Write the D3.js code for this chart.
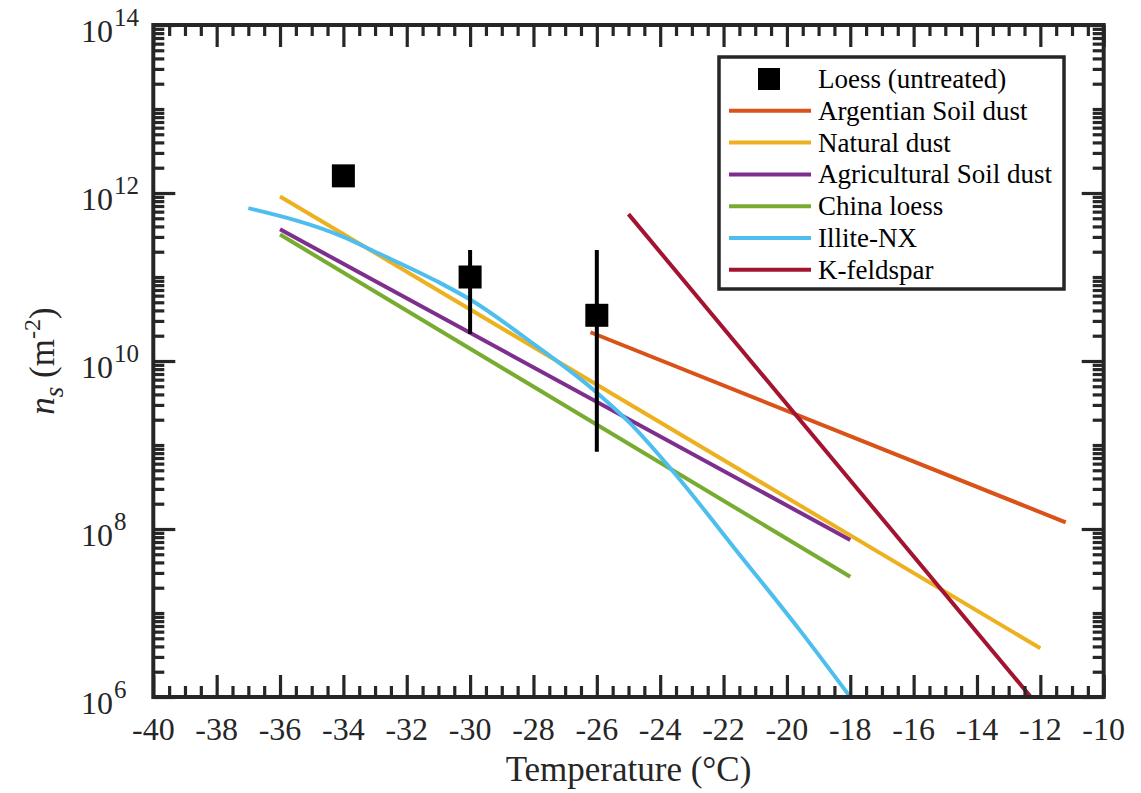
<!DOCTYPE html>
<html>
<head>
<meta charset="utf-8">
<script src="https://cdn.jsdelivr.net/npm/d3@7"></script>
<style>
body { margin: 0; background: #fff; }
text { font-family: "Liberation Serif", "Times New Roman", serif; }
</style>
</head>
<body>
<script>

// ---- data ----
var tempTicks = [-40, -38, -36, -34, -32, -30, -28, -26, -24, -22, -20, -18, -16, -14, -12, -10];
var nsExpTicks = [6, 8, 10, 12, 14];

var loessT = [-34, -30, -26];
var loessNs = [1.6e12, 1.0e11, 3.5e10];
var loessLow = [1.35e12, 2.1e10, 8.3e8];
var loessHigh = [1.7e12, 2.1e11, 2.1e11];

var argentinaT = [-26.2, -11.2];
var argentinaNs = [2.2e10, 1.2e8];
var naturalT = [-36, -12];
var naturalNs = [9.1e11, 3.8e6];
var agriT = [-36, -18];
var agriNs = [3.7e11, 7.4e7];
var chinaT = [-36, -18];
var chinaNs = [3.2e11, 2.7e7];
var illiteT = [-37, -34, -33, -31, -30, -28, -26, -25, -23.5, -21.7, -19.6, -18];
var illiteNs = [6.6e11, 3.0e11, 2.0e11, 8.7e10, 5.4e10, 1.6e10, 4.2e9, 1.9e9, 4.4e8, 6.2e7, 6.3e6, 1.0e6];
var feldsparT = [-25, -12.3];
var feldsparNs = [5.6e11, 1.0e6];

var series = [
  {name: 'Argentian Soil dust', color: '#D95319', t: argentinaT, v: argentinaNs},
  {name: 'Natural dust', color: '#EDB120', t: naturalT, v: naturalNs},
  {name: 'Agricultural Soil dust', color: '#7E2F8E', t: agriT, v: agriNs},
  {name: 'China loess', color: '#77AC30', t: chinaT, v: chinaNs},
  {name: 'Illite-NX', color: '#4DBEEE', t: illiteT, v: illiteNs},
  {name: 'K-feldspar', color: '#A2142F', t: feldsparT, v: feldsparNs}
];

var W = 1141, H = 793;
var pLeft = 153.3, pRight = 1103.7, pTop = 25, pBottom = 697;
var axisColor = '#262626';

var svg = d3.select('body').append('svg')
    .attr('width', W)
    .attr('height', H);

var x = d3.scaleLinear().domain([-40, -10]).range([pLeft, pRight]);
var y = d3.scaleLog().domain([1e6, 1e14]).range([pBottom, pTop]);

svg.append('clipPath').attr('id', 'plot')
  .append('rect')
    .attr('x', pLeft).attr('y', pTop)
    .attr('width', pRight - pLeft).attr('height', pBottom - pTop);

var plot = svg.append('g').attr('clip-path', 'url(#plot)');

var line = d3.line()
    .x(function(d){ return x(d[0]); })
    .y(function(d){ return y(d[1]); })
    .curve(d3.curveMonotoneX);

series.forEach(function(s){
  plot.append('path')
    .datum(d3.zip(s.t, s.v))
    .attr('d', line)
    .attr('fill', 'none')
    .attr('stroke', s.color)
    .attr('stroke-width', 4);
});

// loess points with error bars
loessT.forEach(function(t, i){
  plot.append('line')
    .attr('x1', x(t)).attr('x2', x(t))
    .attr('y1', y(loessLow[i])).attr('y2', y(loessHigh[i]))
    .attr('stroke', '#000').attr('stroke-width', 4);
  plot.append('rect')
    .attr('x', x(t) - 11.5).attr('y', y(loessNs[i]) - 11.5)
    .attr('width', 23).attr('height', 23)
    .attr('fill', '#000');
});

// ticks (inside, all four sides)
var minorT = d3.range(-40, -9.9, 0.5).filter(function(t){ return t % 2 != 0; });
var minorNs = [];
for (var e = 6; e < 14; e++) {
  for (var k = 1; k <= 9; k++) {
    if (k == 1 && e % 2 == 0) continue;
    minorNs.push(k * Math.pow(10, e));
  }
}
var majorNs = nsExpTicks.map(function(e){ return Math.pow(10, e); });

function tickAxis(axis, vals, size, tx, ty) {
  var g = svg.append('g')
    .attr('transform', 'translate(' + tx + ',' + ty + ')')
    .call(axis.tickValues(vals).tickSize(size).tickFormat(''));
  g.select('.domain').remove();
  g.selectAll('.tick line').attr('stroke', axisColor).attr('stroke-width', 3.2);
}
tickAxis(d3.axisBottom(x), tempTicks, -22, 0, pBottom);
tickAxis(d3.axisBottom(x), minorT, -11, 0, pBottom);
tickAxis(d3.axisTop(x), tempTicks, -22, 0, pTop);
tickAxis(d3.axisTop(x), minorT, -11, 0, pTop);
tickAxis(d3.axisLeft(y), majorNs, -22, pLeft, 0);
tickAxis(d3.axisLeft(y), minorNs, -11, pLeft, 0);
tickAxis(d3.axisRight(y), majorNs, -22, pRight, 0);
tickAxis(d3.axisRight(y), minorNs, -11, pRight, 0);

svg.append('rect')
  .attr('x', pLeft).attr('y', pTop)
  .attr('width', pRight - pLeft).attr('height', pBottom - pTop)
  .attr('fill', 'none')
  .attr('stroke', axisColor)
  .attr('stroke-width', 4);

// tick labels
svg.selectAll('.xlab').data(tempTicks).enter().append('text')
  .attr('x', function(d){ return x(d); })
  .attr('y', 740)
  .attr('text-anchor', 'middle')
  .attr('font-size', 32)
  .attr('fill', axisColor)
  .text(function(d){ return d; });

nsExpTicks.forEach(function(e){
  var yy = y(Math.pow(10, e));
  svg.append('text')
    .attr('x', 113).attr('y', yy + 17)
    .attr('text-anchor', 'end')
    .attr('font-size', 32)
    .attr('fill', axisColor)
    .text('10');
  svg.append('text')
    .attr('x', 114).attr('y', yy + 1)
    .attr('font-size', 25)
    .attr('fill', axisColor)
    .text(e);
});

// axis titles
svg.append('text')
  .attr('x', (pLeft + pRight) / 2).attr('y', 781)
  .attr('text-anchor', 'middle')
  .attr('font-size', 35)
  .attr('fill', axisColor)
  .text('Temperature (°C)');

var ylab = svg.append('text')
  .attr('transform', 'translate(54,' + ((pTop + pBottom) / 2) + ') rotate(-90)')
  .attr('text-anchor', 'middle')
  .attr('font-size', 35)
  .attr('fill', axisColor);
ylab.append('tspan').attr('font-style', 'italic').text('n');
ylab.append('tspan').attr('font-style', 'italic').attr('font-size', 27).attr('dy', 9).text('s');
ylab.append('tspan').attr('dy', -9).text(' (m');
ylab.append('tspan').attr('font-size', 24).attr('dy', -14).text('-2');
ylab.append('tspan').attr('dy', 14).text(')');

// legend
var lg = svg.append('g');
lg.append('rect')
  .attr('x', 719).attr('y', 57)
  .attr('width', 345).attr('height', 232)
  .attr('fill', '#fff')
  .attr('stroke', axisColor)
  .attr('stroke-width', 3.5);

var rowY = function(i){ return 79 + i * 31.8; };
lg.append('rect')
  .attr('x', 758).attr('y', rowY(0) - 11)
  .attr('width', 22).attr('height', 22)
  .attr('fill', '#000');
lg.append('text')
  .attr('x', 818).attr('y', rowY(0) + 9)
  .attr('font-size', 27).attr('fill', '#000')
  .text('Loess (untreated)');

series.forEach(function(s, i){
  var yy = rowY(i + 1);
  lg.append('line')
    .attr('x1', 729).attr('x2', 811)
    .attr('y1', yy).attr('y2', yy)
    .attr('stroke', s.color).attr('stroke-width', 4);
  lg.append('text')
    .attr('x', 818).attr('y', yy + 9)
    .attr('font-size', 27).attr('fill', '#000')
    .text(s.name);
});

</script>
</body>
</html>
